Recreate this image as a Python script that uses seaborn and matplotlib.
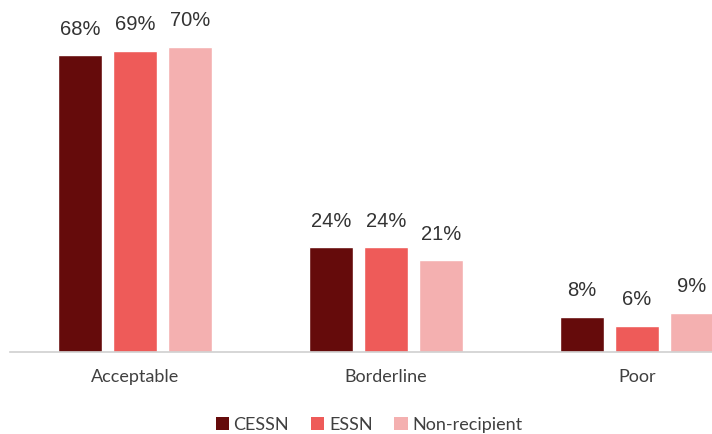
import matplotlib
matplotlib.use("Agg")
import matplotlib.pyplot as plt
import seaborn as sns
import pandas as pd
from matplotlib.patches import Patch

categories = ["Acceptable", "Borderline", "Poor"]
groups = ["CESSN", "ESSN", "Non-recipient"]
cessn = [68, 24, 8]
essn = [69, 24, 6]
non_recipient = [70, 21, 9]
colors = ["#650b0b", "#ee5b59", "#f4b0b0"]

df = pd.DataFrame({
    "category": categories * 3,
    "group": [groups[0]] * 3 + [groups[1]] * 3 + [groups[2]] * 3,
    "value": cessn + essn + non_recipient,
})

sns.set_theme(style="white")
plt.rcParams["font.family"] = ["Liberation Sans", "DejaVu Sans"]

fig = plt.figure(figsize=(7.12, 4.34), dpi=100)
ax = fig.add_axes([9.5 / 712, 82 / 434, (712 - 9.5) / 712, 349 / 434])

sns.barplot(data=df, x="category", y="value", hue="group", order=categories,
            hue_order=groups, palette=colors, width=0.657, gap=0.2,
            saturation=1, ax=ax, legend=False)

for container in ax.containers:
    ax.bar_label(container, labels=[f"{v:.0f}%" for v in container.datavalues],
                 padding=12, fontsize=14.5, color="#333333")

ax.set_xlim(-0.5, 2.299)
ax.set_ylim(0, 80)
ax.set_xlabel("")
ax.set_ylabel("")
ax.set_yticks([])
for side in ["top", "right", "left"]:
    ax.spines[side].set_visible(False)
ax.spines["bottom"].set_color("#d0d0d0")
ax.spines["bottom"].set_linewidth(1.2)
ax.tick_params(axis="x", length=0, pad=12)
for lbl in ax.get_xticklabels():
    lbl.set_fontfamily(["Lato", "DejaVu Sans"])
    lbl.set_fontsize(13)
    lbl.set_color("#404040")

handles = [Patch(facecolor=c, edgecolor="none") for c in colors]
leg = fig.legend(handles, groups, loc="center", bbox_to_anchor=(369 / 712, 1 - 425 / 434),
                 ncol=3, frameon=False, handlelength=0.75, handleheight=0.75,
                 handletextpad=0.25, columnspacing=1.2,
                 prop={"family": ["Lato", "DejaVu Sans"], "size": 13})
for t in leg.get_texts():
    t.set_color("#404040")

fig.savefig("out.png", dpi=100)
